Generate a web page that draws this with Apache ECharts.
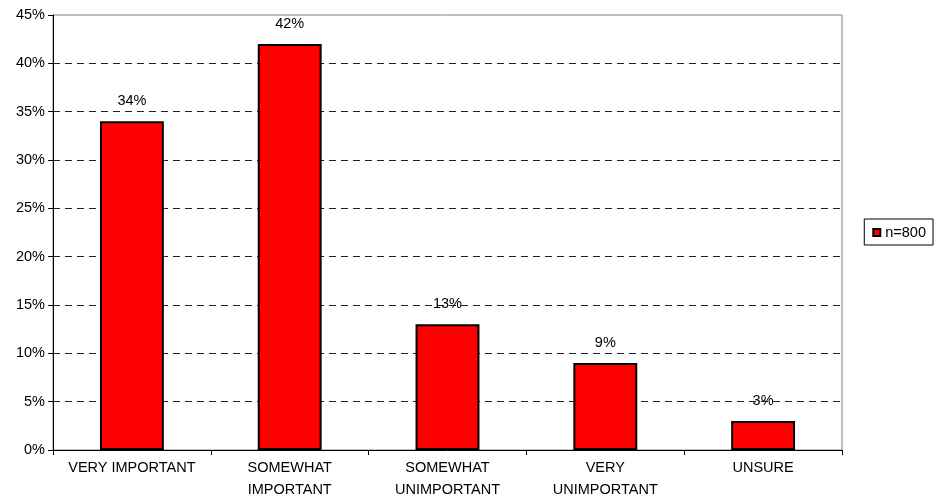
<!DOCTYPE html>
<html>
<head>
<meta charset="utf-8">
<script src="https://cdn.jsdelivr.net/npm/echarts@6/dist/echarts.min.js"></script>
<style>html,body{margin:0;padding:0;background:#fff;overflow:hidden;}#c{width:934px;height:501px;}</style>
</head>
<body>
<div id="c"></div>
<script>
const categories = ['VERY IMPORTANT', 'SOMEWHAT\nIMPORTANT', 'SOMEWHAT\nUNIMPORTANT', 'VERY\nUNIMPORTANT', 'UNSURE'];
const values = [34, 42, 13, 9, 3];
const seriesName = 'n=800';
const yMin = 0, yMax = 45, yStep = 5;

const font = 'Liberation Sans, Arial, sans-serif';
const chart = echarts.init(document.getElementById('c'));
chart.setOption({
  animation: false,
  backgroundColor: '#fff',
  grid: { left: 53, right: 92, top: 15, bottom: 51, containLabel: false, outerBoundsMode: 'none',
          show: true, borderColor: '#808080', borderWidth: 1, backgroundColor: 'transparent' },
  legend: {
    right: 1, top: 219, orient: 'vertical',
    data: [seriesName],
    itemWidth: 7, itemHeight: 7, itemGap: 4,
    icon: 'rect',
    borderColor: '#000', borderWidth: 1, padding: [6, 7, 5, 8],
    textStyle: { fontFamily: font, fontSize: 14.5, color: '#000', padding: [0, 0, 0, 0] }
  },
  xAxis: {
    type: 'category', data: categories,
    axisLine: { lineStyle: { color: '#000', width: 1 } },
    axisTick: { show: true, alignWithLabel: false, length: 5, lineStyle: { color: '#000' } },
    axisLabel: { fontFamily: font, fontSize: 14.5, color: '#000', margin: 7, lineHeight: 22, interval: 0 }
  },
  yAxis: {
    type: 'value', min: yMin, max: yMax, interval: yStep,
    axisLine: { show: true, lineStyle: { color: '#000', width: 1 } },
    axisTick: { show: true, length: 5, lineStyle: { color: '#000' } },
    axisLabel: { fontFamily: font, fontSize: 14.5, color: '#000', margin: 8, formatter: v => v + '%' },
    splitLine: { show: true, showMinLine: false, showMaxLine: false, lineStyle: { color: '#222', type: [7, 5], width: 1 } }
  },
  series: [{
    name: seriesName, type: 'bar', data: values,
    barWidth: '40.5%',
    itemStyle: { color: '#ff0000', borderColor: '#000', borderWidth: 2 },
    label: { show: true, position: 'top', distance: 13, fontFamily: font, fontSize: 14.5, color: '#000', formatter: p => p.value + '%' }
  }]
});
</script>
</body>
</html>
